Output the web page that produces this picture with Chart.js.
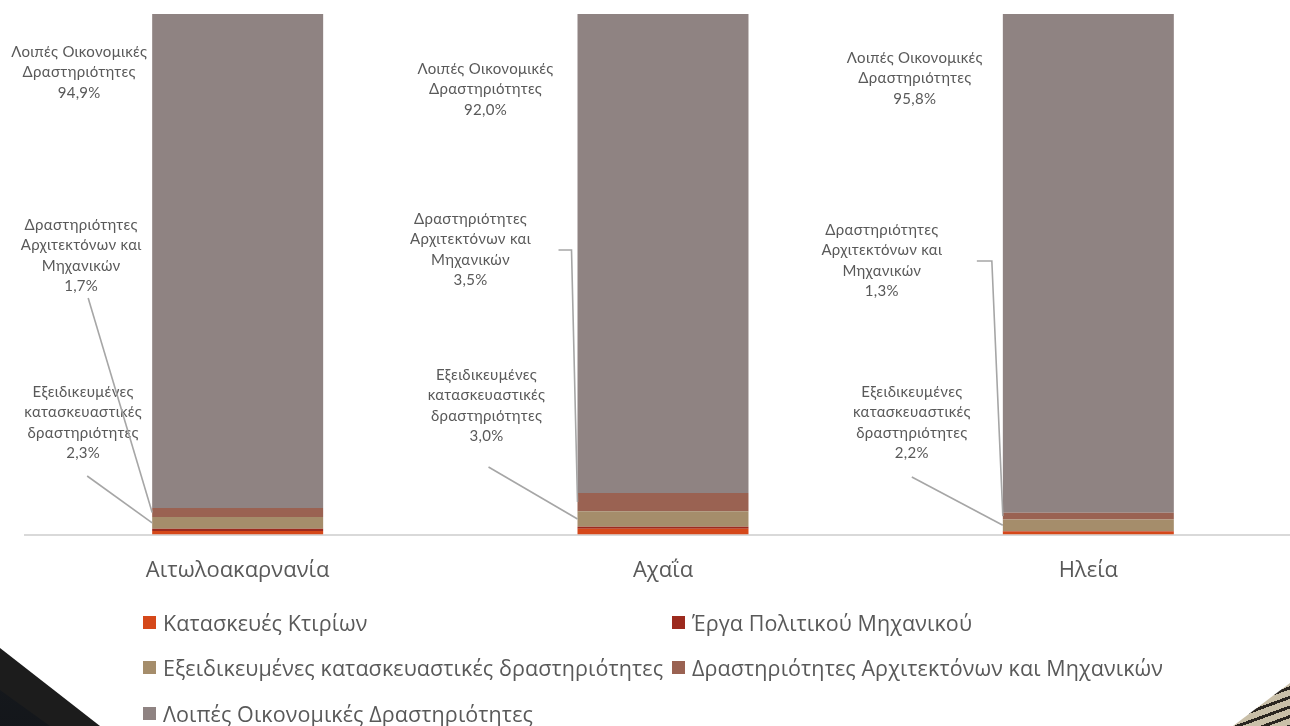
<!DOCTYPE html>
<html>
<head>
<meta charset="utf-8">
<script src="https://cdn.jsdelivr.net/npm/chart.js@4.4.1/dist/chart.umd.min.js"></script>
<style>
  html, body { margin:0; padding:0; background:#fff; width:1290px; height:726px; overflow:hidden; }
  #wrap { position:absolute; left:0; top:0; width:1301px; height:607px; }
  #legend { position:absolute; left:0; top:0; width:1290px; height:726px; pointer-events:none;
            font-family:"Open Sans", sans-serif; font-size:21.5px; letter-spacing:0.1px; color:#595959; }
  .li { position:absolute; white-space:nowrap; line-height:26px; }
  .li span.box { position:absolute; left:0; top:6px; width:13px; height:13px; }
  .li span.t { position:absolute; left:20px; top:0; }
  .deco { position:absolute; }
</style>
</head>
<body>
<div class="deco" style="left:0;top:0;width:1290px;height:726px;">
  <div style="position:absolute;left:0;top:0;width:1290px;height:726px;background:#1c1c1c;clip-path:polygon(0 648px,100px 726px,0 726px);"></div>
  <div style="position:absolute;left:0;top:0;width:1290px;height:726px;background:linear-gradient(180deg,#2d3440,#10141a);clip-path:polygon(0 690px,50px 726px,0 726px);opacity:0.7;"></div>
  <div style="position:absolute;left:0;top:0;width:1290px;height:726px;background:repeating-linear-gradient(160deg,#c9bfa8 0 6px,#2a2520 6px 9px);clip-path:polygon(1290px 683px,1233px 726px,1290px 726px);"></div>
</div>
<div id="wrap"><canvas id="c"></canvas></div>
<div id="legend"></div>
<script>
// ---- data ----
const categories = ["Αιτωλοακαρνανία", "Αχαΐα", "Ηλεία"];
const seriesNames = [
  "Κατασκευές Κτιρίων",
  "Έργα Πολιτικού Μηχανικού",
  "Εξειδικευμένες κατασκευαστικές δραστηριότητες",
  "Δραστηριότητες Αρχιτεκτόνων και Μηχανικών",
  "Λοιπές Οικονομικές Δραστηριότητες"
];
const buildings     = [0.7, 1.1, 0.6];
const civilWorks    = [0.4, 0.4, 0.1];
const specialized   = [2.3, 3.0, 2.2];
const architects    = [1.7, 3.5, 1.3];
const otherActivity = [94.9, 92.0, 95.8];
const yTicks = [0, 100];
// wrapped label text per series (for data labels)
const labelLines = {
  2: ["Εξειδικευμένες", "κατασκευαστικές", "δραστηριότητες"],
  3: ["Δραστηριότητες", "Αρχιτεκτόνων και", "Μηχανικών"],
  4: ["Λοιπές Οικονομικές", "Δραστηριότητες"]
};

const colors = ["#D5481A", "#9C2A1E", "#A58D6B", "#9A6252", "#8F8382"];
const seriesValues = [buildings, civilWorks, specialized, architects, otherActivity];

// ---- label placement (style) : per category, per dataset ----
const labelPlacement = [
  { 4:{cx:-73, top:52},  3:{cx:-71, top:225, lead:[[-64,298]]},            2:{cx:-69, top:392, lead:[[-65,476]]} },
  { 4:{cx:-92, top:69},  3:{cx:-107,top:219, lead:[[-19,250],[-6,250]]},   2:{cx:-91, top:375, lead:[[-89,467]]} },
  { 4:{cx:-88, top:58},  3:{cx:-121,top:230, lead:[[-26,261],[-11,261]]},  2:{cx:-91, top:392, lead:[[-91,477]]} }
];

const fmt = v => v.toFixed(1).replace(".", ",") + "%";

const calloutPlugin = {
  id: "callouts",
  afterDatasetsDraw(chart) {
    const ctx = chart.ctx;
    ctx.save();
    ctx.font = '15px "Lato", sans-serif';
    try { ctx.letterSpacing = "0.3px"; } catch (e) {}
    ctx.fillStyle = "#595959";
    ctx.textAlign = "center";
    ctx.textBaseline = "middle";
    categories.forEach((cat, ci) => {
      const place = labelPlacement[ci];
      Object.keys(place).forEach(k => {
        const di = +k;
        const p = place[di];
        const el = chart.getDatasetMeta(di).data[ci];
        const left = el.x - el.width / 2;
        const midY = (el.y + el.base) / 2;
        const lines = labelLines[di].concat([fmt(chart.data.datasets[di].data[ci])]);
        lines.forEach((ln, li) => ctx.fillText(ln, left + p.cx, p.top + li * 20.5));
        if (p.lead) {
          ctx.beginPath();
          ctx.strokeStyle = "#A6A6A6";
          ctx.lineWidth = 1.6;
          ctx.moveTo(left + p.lead[0][0], p.lead[0][1]);
          for (let i = 1; i < p.lead.length; i++) ctx.lineTo(left + p.lead[i][0], p.lead[i][1]);
          ctx.lineTo(left, midY);
          ctx.stroke();
        }
      });
    });
    ctx.restore();
  }
};

const chart = new Chart(document.getElementById("c"), {
  type: "bar",
  data: {
    labels: categories,
    datasets: seriesNames.map((n, i) => ({
      label: n,
      data: seriesValues[i],
      backgroundColor: colors[i],
      borderWidth: 0,
      categoryPercentage: 1.0,
      barPercentage: 0.402
    }))
  },
  options: {
    responsive: true,
    maintainAspectRatio: false,
    animation: false,
    devicePixelRatio: 1,
    layout: { padding: { left: 25, right: 0, top: 14, bottom: 0 } },
    plugins: { legend: { display: false }, tooltip: { enabled: false } },
    scales: {
      x: {
        stacked: true,
        grid: { display: false, drawTicks: false },
        border: { display: true, color: "#D9D9D9", width: 2 },
        ticks: { color: "#595959", padding: 23, font: { family: '"Open Sans", sans-serif', size: 22 } }
      },
      y: {
        stacked: true, display: false,
        min: yTicks[0], max: yTicks[1]
      }
    }
  },
  plugins: [calloutPlugin]
});

// ---- HTML legend (two columns) built from chart datasets ----
const legend = document.getElementById("legend");
const colX = [143, 672];
const rowY = [610, 655, 701];
chart.data.datasets.forEach((ds, i) => {
  const d = document.createElement("div");
  d.className = "li";
  d.style.left = colX[i % 2] + "px";
  d.style.top = rowY[Math.floor(i / 2)] + "px";
  d.innerHTML = '<span class="box" style="background:' + ds.backgroundColor + '"></span><span class="t">' + ds.label + '</span>';
  legend.appendChild(d);
});
</script>
</body>
</html>
